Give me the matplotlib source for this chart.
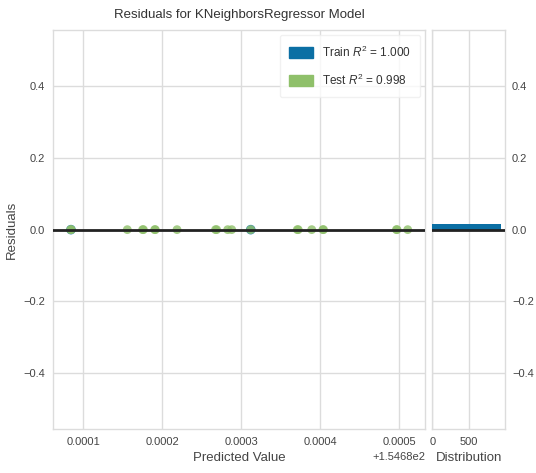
import numpy as np
import matplotlib.pyplot as plt
from matplotlib.patches import Patch

# predicted values (x) and residuals for the KNN model
offset = 154.68
test_pred = [0.0000840, 0.0000848, 0.0001558, 0.0001752, 0.0001762, 0.0001905,
             0.0001913, 0.0002188, 0.0002676, 0.0002690, 0.0002830, 0.0002881,
             0.0003122, 0.0003712, 0.0003724, 0.0003895, 0.0004036, 0.0004044,
             0.0004968, 0.0004976, 0.0005111]
test_resid = [0.0] * len(test_pred)
train_pred = [0.0000844, 0.0003122]
train_resid = [0.0] * len(train_pred)
hist_count = [938]
hist_edges = [0.0, 0.016]
train_r2 = 1.000
test_r2 = 0.998

train_color = '#0b6fa4'
test_color = '#8fc06a'
grid_c = '#dcdcdc'
text_c = '#444444'

plt.rcParams['font.family'] = ['Liberation Sans', 'DejaVu Sans']
plt.rcParams['mathtext.fontset'] = 'custom'
plt.rcParams['mathtext.it'] = 'Liberation Sans:italic'
plt.rcParams['mathtext.rm'] = 'Liberation Sans'

fig = plt.figure(figsize=(5.36, 4.73), dpi=100)
ax = fig.add_axes([0.0994, 0.093, 0.6935, 0.843])
hax = fig.add_axes([0.8065, 0.093, 0.1356, 0.843], sharey=ax)

ax.scatter(np.array(train_pred) + offset, train_resid, s=48, color=train_color,
           alpha=0.8, edgecolors='none', zorder=3)
ax.scatter(np.array(test_pred) + offset, test_resid, s=40, color=test_color,
           alpha=0.8, edgecolors='none', zorder=4)
ax.axhline(0, color='#222222', lw=2.0, zorder=5)

ax.set_xlim(offset + 0.0000620, offset + 0.0005330)
ax.set_ylim(-0.556, 0.556)
ax.set_xticks([offset + k * 0.0001 for k in range(1, 6)])
ax.set_yticks([-0.4, -0.2, 0.0, 0.2, 0.4])
ax.set_title('Residuals for KNeighborsRegressor Model', fontsize=9.5,
             color='#333333', pad=9)
ax.set_xlabel('Predicted Value', fontsize=9.5, color=text_c, labelpad=3)
ax.set_ylabel('Residuals', fontsize=9.5, color=text_c, labelpad=4)

handles = [Patch(color=train_color, label='Train $R^2$ = %.3f' % train_r2),
           Patch(color=test_color, label='Test $R^2$ = %.3f' % test_r2)]
leg = ax.legend(handles=handles, loc='upper right', fontsize=8.5, frameon=True,
                handlelength=2.0, handleheight=1.0, borderpad=0.8,
                labelspacing=1.1, borderaxespad=0.4)
leg.get_frame().set_edgecolor('#eeeeee')
for t in leg.get_texts():
    t.set_color('#333333')

# distribution of residuals
hax.barh(hist_edges[0], hist_count[0], height=hist_edges[1] - hist_edges[0],
         align='edge', color=train_color, zorder=3)
hax.axhline(0, color='#222222', lw=2.0, zorder=4)
hax.set_xlim(0, 985)
hax.set_xticks([0, 500])
hax.set_xlabel('Distribution', fontsize=9.5, color=text_c, labelpad=3)
hax.yaxis.tick_right()
hax.tick_params(labelleft=False, labelright=True)

for a in (ax, hax):
    a.grid(True, color=grid_c, lw=1.0)
    a.set_axisbelow(True)
    a.tick_params(length=0, labelsize=8, colors=text_c, pad=6)
    for s in a.spines.values():
        s.set_color(grid_c)
        s.set_linewidth(1.0)
hax.tick_params(axis='y', pad=5)
ax.xaxis.get_offset_text().set_fontsize(8)
ax.xaxis.get_offset_text().set_color(text_c)

fig.savefig('out.png', dpi=100)
